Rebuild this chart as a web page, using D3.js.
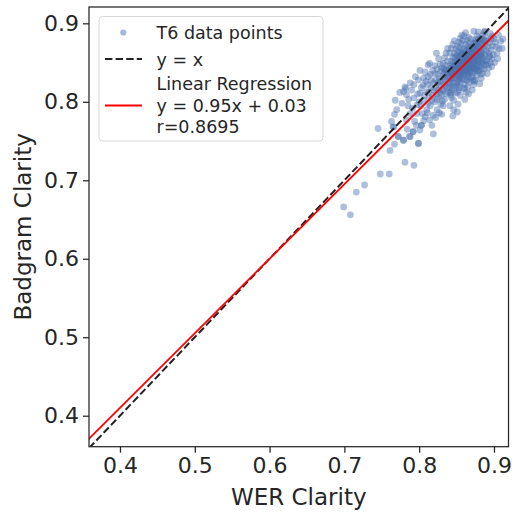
<!DOCTYPE html>
<html><head><meta charset="utf-8">
<script src="https://cdn.jsdelivr.net/npm/d3@7"></script>
<style>body{margin:0;background:#fff}svg{display:block}text{font-family:"DejaVu Sans",sans-serif;fill:#262626}</style>
</head><body>
<svg id="c" width="515" height="512"></svg>
<script>
const xTicks=[0.4,0.5,0.6,0.7,0.8,0.9];
const yTicks=[0.4,0.5,0.6,0.7,0.8,0.9];
const xLabel="WER Clarity", yLabel="Badgram Clarity";
const slope=0.95, intercept=0.03;
const legendLabels=["T6 data points","y = x","Linear Regression","y = 0.95x + 0.03","r=0.8695"];
const outlierX=[0.699,0.708,0.716,0.727,0.748,0.760,0.781,0.793,0.745,0.761,0.767,0.819,0.772,0.779,0.788,0.792,0.799,0.803,0.765];
const outlierY=[0.666,0.656,0.685,0.694,0.708,0.708,0.723,0.719,0.766,0.738,0.746,0.759,0.7555,0.751,0.7555,0.762,0.747,0.770,0.768];
const clusterPts=[
[0.768,0.802],[0.770,0.790],[0.772,0.756],[0.766,0.768],[0.763,0.775],[0.774,0.812],[0.767,0.784],
[0.779,0.751],[0.783,0.777],[0.781,0.819],[0.783,0.809],[0.779,0.813],[0.782,0.817],[0.785,0.795],[0.777,0.798],[0.784,0.765],[0.787,0.756],[0.788,0.785],[0.788,0.824],[0.786,0.803],
[0.790,0.815],[0.792,0.762],[0.794,0.775],[0.797,0.785],[0.797,0.796],[0.799,0.828],[0.799,0.747],[0.793,0.805],[0.795,0.832],[0.791,0.792],[0.796,0.770],[0.798,0.810],[0.793,0.822],
[0.801,0.764],[0.803,0.770],[0.801,0.840],[0.801,0.811],[0.805,0.802],[0.805,0.821],[0.808,0.781],[0.810,0.790],[0.810,0.813],[0.802,0.795],[0.806,0.830],[0.804,0.785],[0.807,0.808],[0.809,0.826],[0.803,0.818],[0.806,0.776],[0.808,0.838],[0.800,0.800],
[0.812,0.847],[0.812,0.832],[0.814,0.777],[0.817,0.770],[0.817,0.802],[0.819,0.815],[0.814,0.849],[0.811,0.822],[0.813,0.805],[0.815,0.795],[0.816,0.827],[0.818,0.840],[0.811,0.786],[0.819,0.783],[0.813,0.812],[0.816,0.818],[0.818,0.808],[0.815,0.835],[0.812,0.798],[0.819,0.824],
[0.823,0.862],[0.822,0.780],[0.824,0.790],[0.821,0.800],[0.826,0.806],[0.828,0.812],[0.822,0.818],[0.825,0.824],[0.827,0.830],[0.821,0.836],[0.824,0.842],[0.828,0.848],[0.826,0.855],[0.829,0.797],[0.823,0.810],[0.827,0.821],[0.825,0.835],[0.829,0.839],[0.822,0.828],[0.826,0.815],[0.824,0.803],[0.828,0.826],[0.821,0.846],[0.827,0.786],
[0.830,0.784],[0.832,0.795],[0.834,0.803],[0.836,0.810],[0.831,0.816],[0.833,0.822],[0.835,0.827],[0.837,0.833],[0.839,0.838],[0.830,0.843],[0.832,0.849],[0.834,0.856],[0.836,0.862],[0.838,0.868],[0.831,0.828],[0.833,0.835],[0.835,0.841],[0.837,0.818],[0.839,0.824],[0.830,0.809],[0.832,0.814],[0.834,0.831],[0.836,0.846],[0.838,0.852],[0.831,0.801],[0.833,0.842],[0.835,0.820],[0.837,0.840],[0.839,0.812],[0.834,0.837],
[0.841,0.795],[0.843,0.805],[0.845,0.782],[0.846,0.790],[0.842,0.812],[0.844,0.818],[0.846,0.824],[0.848,0.830],[0.840,0.835],[0.842,0.840],[0.844,0.846],[0.846,0.851],[0.848,0.857],[0.841,0.862],[0.843,0.868],[0.845,0.873],[0.847,0.878],[0.849,0.838],[0.841,0.826],[0.843,0.831],[0.845,0.836],[0.847,0.843],[0.849,0.848],[0.840,0.818],[0.842,0.823],[0.844,0.829],[0.846,0.834],[0.848,0.839],[0.841,0.846],[0.843,0.852],[0.845,0.857],[0.847,0.862],[0.849,0.867],[0.842,0.809],[0.844,0.815],[0.846,0.802],[0.848,0.811],[0.843,0.838],[0.845,0.844],[0.847,0.820],
[0.851,0.787],[0.852,0.797],[0.855,0.808],[0.853,0.815],[0.850,0.820],[0.852,0.826],[0.854,0.831],[0.856,0.836],[0.858,0.841],[0.850,0.846],[0.852,0.851],[0.854,0.856],[0.856,0.861],[0.858,0.866],[0.851,0.871],[0.853,0.876],[0.855,0.881],[0.857,0.885],[0.859,0.829],[0.851,0.834],[0.853,0.839],[0.855,0.844],[0.857,0.849],[0.859,0.854],[0.850,0.859],[0.852,0.864],[0.854,0.869],[0.856,0.874],[0.858,0.878],[0.851,0.823],[0.853,0.828],[0.855,0.833],[0.857,0.838],[0.859,0.843],[0.850,0.848],[0.852,0.853],[0.854,0.858],[0.856,0.863],[0.858,0.855],[0.851,0.812],[0.853,0.818],[0.855,0.824],[0.857,0.830],[0.859,0.817],[0.854,0.842],[0.856,0.847],[0.858,0.850],[0.852,0.843],
[0.861,0.803],[0.863,0.812],[0.865,0.819],[0.867,0.825],[0.869,0.830],[0.860,0.835],[0.862,0.840],[0.864,0.845],[0.866,0.850],[0.868,0.855],[0.861,0.860],[0.863,0.865],[0.865,0.870],[0.867,0.875],[0.869,0.880],[0.860,0.884],[0.862,0.888],[0.864,0.827],[0.866,0.832],[0.868,0.838],[0.861,0.843],[0.863,0.848],[0.865,0.853],[0.867,0.858],[0.869,0.863],[0.860,0.868],[0.862,0.873],[0.864,0.878],[0.866,0.882],[0.868,0.846],[0.861,0.851],[0.863,0.856],[0.865,0.861],[0.867,0.866],[0.869,0.871],[0.860,0.822],[0.862,0.828],[0.864,0.834],[0.866,0.839],[0.868,0.844],[0.861,0.817],[0.863,0.836],[0.865,0.842],[0.867,0.849],[0.869,0.854],[0.866,0.810],[0.862,0.858],
[0.871,0.815],[0.873,0.822],[0.875,0.828],[0.877,0.834],[0.879,0.839],[0.870,0.844],[0.872,0.849],[0.874,0.854],[0.876,0.859],[0.878,0.864],[0.871,0.869],[0.873,0.874],[0.875,0.879],[0.877,0.884],[0.879,0.889],[0.873,0.890],[0.870,0.838],[0.872,0.843],[0.874,0.848],[0.876,0.853],[0.878,0.858],[0.871,0.862],[0.873,0.867],[0.875,0.872],[0.877,0.876],[0.879,0.880],[0.870,0.852],[0.872,0.857],[0.874,0.862],[0.876,0.867],[0.878,0.871],[0.871,0.832],[0.873,0.837],[0.875,0.842],[0.877,0.847],[0.879,0.851],[0.874,0.826],[0.876,0.840],[0.878,0.845],[0.872,0.827],
[0.881,0.823],[0.883,0.830],[0.885,0.836],[0.887,0.842],[0.889,0.847],[0.880,0.852],[0.882,0.857],[0.884,0.862],[0.886,0.867],[0.888,0.872],[0.881,0.877],[0.883,0.881],[0.885,0.885],[0.887,0.889],[0.888,0.890],[0.880,0.840],[0.882,0.845],[0.884,0.850],[0.886,0.855],[0.888,0.860],[0.881,0.865],[0.883,0.870],[0.885,0.874],[0.887,0.878],[0.889,0.882],[0.882,0.835],[0.884,0.842],[0.886,0.848],[0.888,0.852],[0.880,0.860],
[0.891,0.836],[0.893,0.843],[0.895,0.850],[0.897,0.855],[0.899,0.860],[0.890,0.865],[0.892,0.870],[0.894,0.875],[0.896,0.880],[0.898,0.884],[0.894,0.858],[0.890,0.852],[0.892,0.848],[0.896,0.866],[0.898,0.871],[0.891,0.878],[0.893,0.862],[0.895,0.887],[0.894,0.8575],[0.897,0.845],
[0.901,0.850],[0.903,0.870],[0.906,0.885],[0.904,0.862],[0.902,0.876],[0.907,0.868],[0.905,0.855],[0.900,0.880],[0.909,0.877],[0.912,0.880],[0.911,0.868],
[0.853,0.847],[0.857,0.852],[0.861,0.856],[0.865,0.857],[0.869,0.860],[0.872,0.861],[0.855,0.842],[0.859,0.846],[0.863,0.851],[0.867,0.852],[0.871,0.856],[0.875,0.857],[0.851,0.837],[0.856,0.840],[0.860,0.845],[0.864,0.849],[0.868,0.851],[0.873,0.853],[0.877,0.861],[0.858,0.836],[0.862,0.843],[0.866,0.846],[0.870,0.848],[0.874,0.850],[0.878,0.853],[0.882,0.859],[0.854,0.834],[0.866,0.843],[0.871,0.845],[0.879,0.857],[0.883,0.864],[0.856,0.852],[0.860,0.855],[0.864,0.859],[0.868,0.862],[0.872,0.866],[0.876,0.870],[0.880,0.869],[0.884,0.873],[0.847,0.835],[0.849,0.842],[0.845,0.830],[0.853,0.832],[0.861,0.839],[0.865,0.837],[0.869,0.841],[0.873,0.844],[0.877,0.842],[0.881,0.849],[0.885,0.857],[0.862,0.862],[0.866,0.866],[0.870,0.869],[0.874,0.875],[0.878,0.877],[0.882,0.880],[0.886,0.878],[0.843,0.843],[0.848,0.851],[0.852,0.858],[0.857,0.861],[0.839,0.832],[0.844,0.836]
];
const xDomain=[0.3586,0.9194], yDomain=[0.3605,0.9208];

const svg=d3.select("#c");
const L=89,R=508.5,T=7,B=446.7;
const x=d3.scaleLinear().domain(xDomain).range([L,R]);
const y=d3.scaleLinear().domain(yDomain).range([B,T]);
svg.append("defs").append("clipPath").attr("id","clip").append("rect").attr("x",L).attr("y",T).attr("width",R-L).attr("height",B-T);

const pts=outlierX.map((v,i)=>[v,outlierY[i]]).concat(clusterPts);
const col="#4c72b0";
svg.append("g").attr("clip-path","url(#clip)").selectAll("circle").data(pts).join("circle")
  .attr("cx",d=>x(d[0])).attr("cy",d=>y(d[1])).attr("r",3.4)
  .attr("fill",col).attr("fill-opacity",0.45);

const lg=svg.append("g").attr("clip-path","url(#clip)");
const xs=[0.3,1.0];
lg.append("line").attr("x1",x(xs[0])).attr("y1",y(xs[0])).attr("x2",x(xs[1])).attr("y2",y(xs[1]))
  .attr("stroke","#222").attr("stroke-width",2).attr("stroke-dasharray","7.4,3.2");
lg.append("line").attr("x1",x(xs[0])).attr("y1",y(slope*xs[0]+intercept)).attr("x2",x(xs[1])).attr("y2",y(slope*xs[1]+intercept))
  .attr("stroke","#ff0000").attr("stroke-width",1.8);

const ax=svg.append("g").attr("transform",`translate(0,${B})`).call(d3.axisBottom(x).tickValues(xTicks).tickFormat(d3.format(".1f")).tickSize(6).tickPadding(5));
const ay=svg.append("g").attr("transform",`translate(${L},0)`).call(d3.axisLeft(y).tickValues(yTicks).tickFormat(d3.format(".1f")).tickSize(6).tickPadding(4));
[ax,ay].forEach(a=>{a.select(".domain").remove();a.selectAll("line").attr("stroke","#262626").attr("stroke-width",1.25);
 a.selectAll("text").attr("font-size",22).attr("fill","#262626").attr("font-family","DejaVu Sans");});
svg.append("rect").attr("x",L).attr("y",T).attr("width",R-L).attr("height",B-T).attr("fill","none").attr("stroke","#262626").attr("stroke-width",1.25);

svg.append("text").attr("x",(L+R)/2).attr("y",505).attr("text-anchor","middle").attr("font-size",23).text(xLabel);
svg.append("text").attr("transform",`translate(31,${(T+B)/2}) rotate(-90)`).attr("text-anchor","middle").attr("font-size",23).text(yLabel);

const leg=svg.append("g");
leg.append("rect").attr("x",99).attr("y",16.5).attr("width",224).attr("height",124.5).attr("rx",3.5)
  .attr("fill","#fff").attr("fill-opacity",0.8).attr("stroke","#d6d6d6").attr("stroke-width",1);
leg.append("circle").attr("cx",123.3).attr("cy",32.5).attr("r",3.1).attr("fill",col).attr("fill-opacity",0.5);
leg.append("line").attr("x1",105).attr("x2",142).attr("y1",59).attr("y2",59).attr("stroke","#222").attr("stroke-width",2).attr("stroke-dasharray","7.4,3.2");
leg.append("line").attr("x1",105).attr("x2",142).attr("y1",105.5).attr("y2",105.5).attr("stroke","#ff0000").attr("stroke-width",1.8);
const ly=[38.5,65.5,90,111.5,132.5];
legendLabels.forEach((t,i)=>leg.append("text").attr("x",156.5).attr("y",ly[i]).attr("font-size",17.5).text(t));
</script>
</body></html>
